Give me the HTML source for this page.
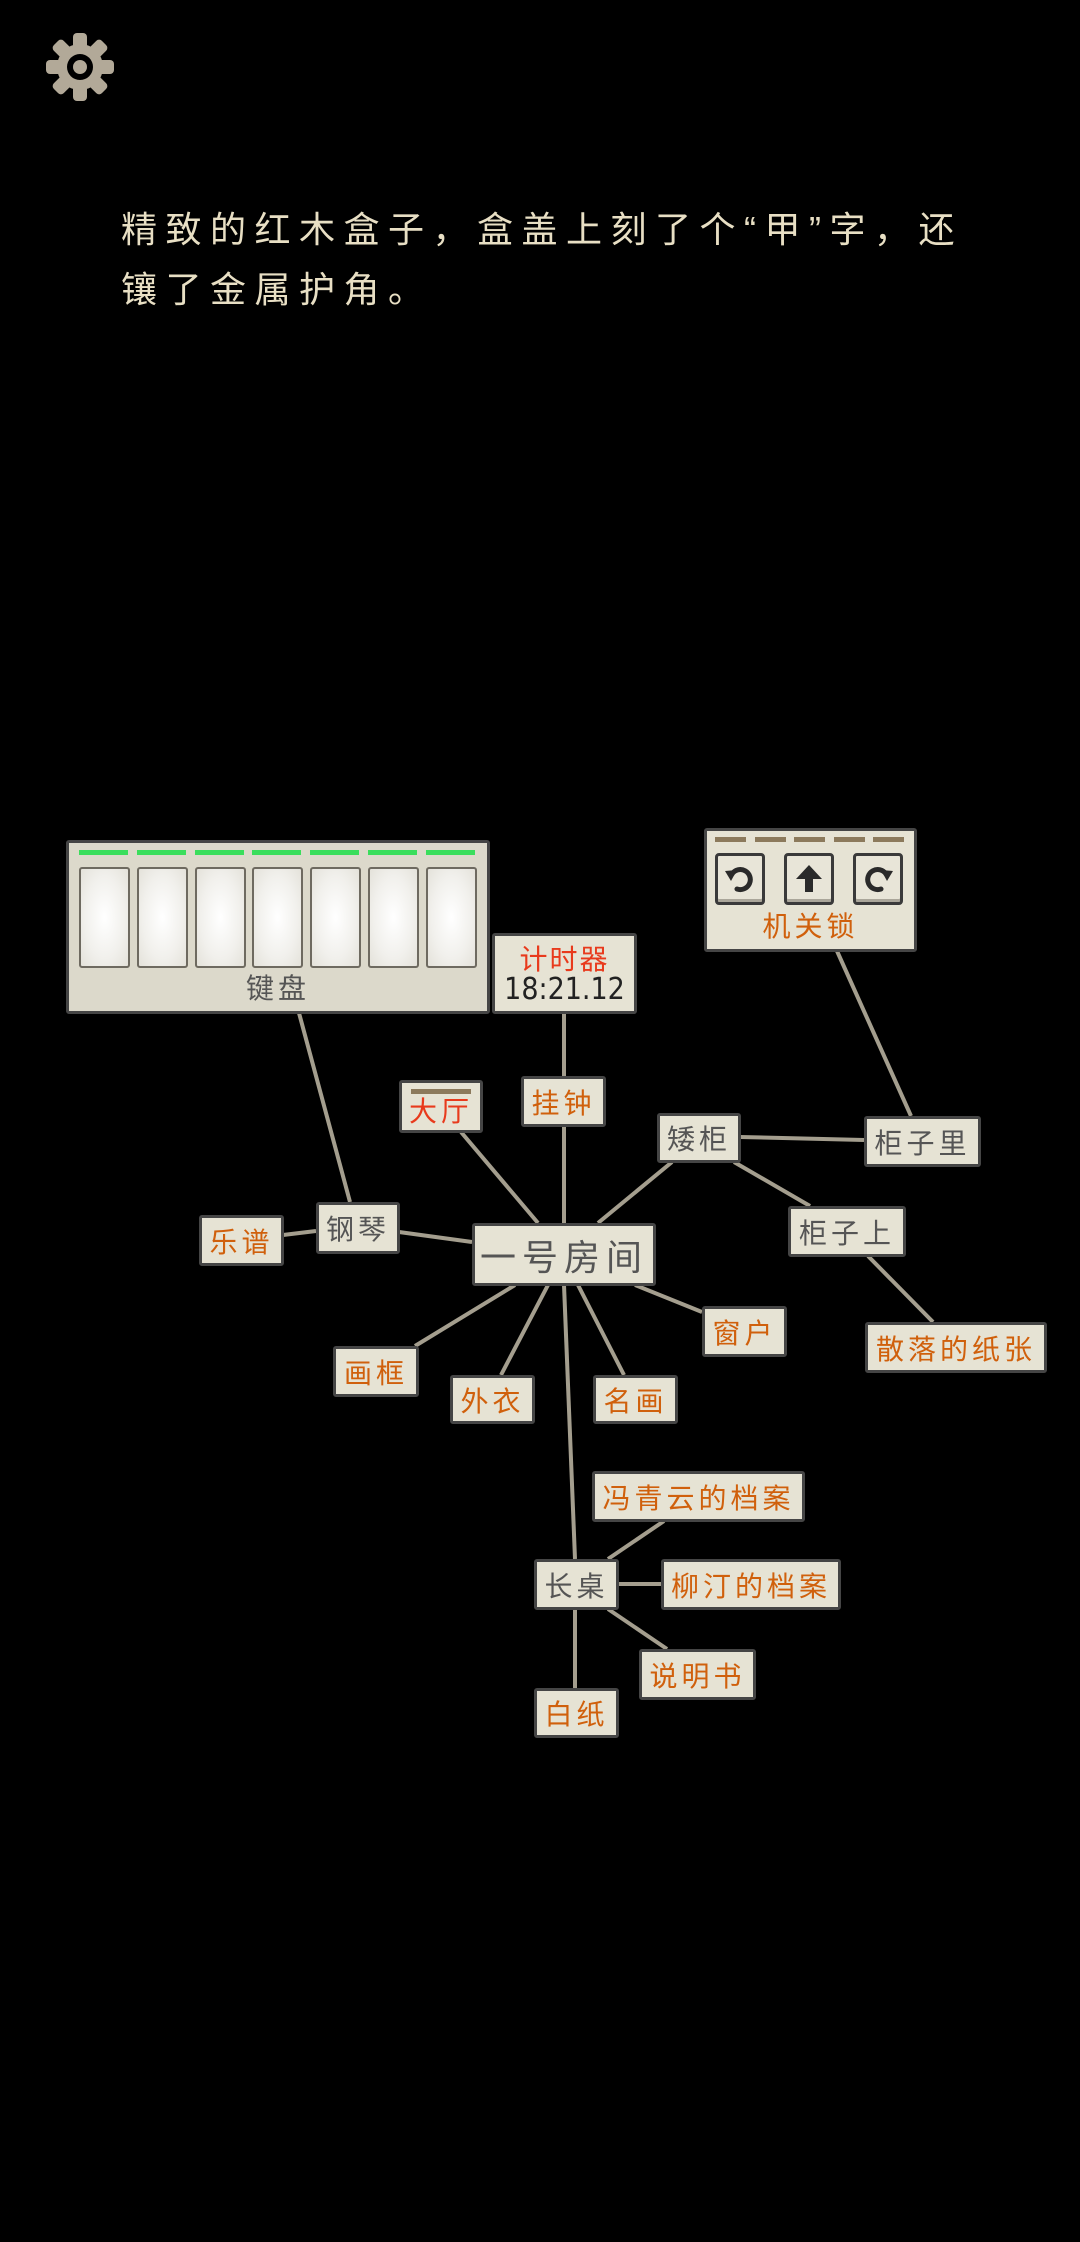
<!DOCTYPE html>
<html style="background:#000"><head><meta charset="utf-8"><style>
html,body{background:#000 !important;}
body{margin:0;width:1080px;height:2242px;position:relative;overflow:hidden;font-family:"Liberation Sans","Noto Sans CJK SC",sans-serif;}
.n{position:absolute;box-sizing:border-box;background:#e6e3d4;border:3px solid #454545;border-radius:3px;display:flex;align-items:center;justify-content:center;font-size:28px;letter-spacing:4px;color:#555;white-space:nowrap;font-family:"Noto Sans CJK SC",sans-serif;}
.o{color:#d0600c;}
.r{color:#e83a1c;}
.desc{position:absolute;left:121px;top:200px;color:#e8dfc4;font-size:36px;letter-spacing:8.5px;line-height:60px;font-family:"Liberation Sans","Noto Sans CJK SC",sans-serif;}
.key{position:absolute;top:867px;width:51px;height:101px;box-sizing:border-box;border:2px solid #6e6a60;border-radius:3px;background:radial-gradient(ellipse at center,#fff 0%,#f1f0ec 60%,#e4e2da 100%);}
.g{position:absolute;top:850px;height:5px;width:49px;background:#3ade5c;}
.d{position:absolute;top:837px;height:5px;width:31px;background:#8c7a5c;}
.b{position:absolute;top:853px;width:50px;height:52px;box-sizing:border-box;border:3px solid #3a3a3a;border-radius:4px;background:#e8e5d8;box-shadow:inset 0 -3px 0 #aaa69a;display:flex;align-items:center;justify-content:center;}
</style></head><body>
<div style="position:absolute;left:0;top:0;width:1080px;height:2242px;background:#000"></div>
<svg width="1080" height="2242" style="position:absolute;left:0;top:0">
<rect width="1080" height="2242" fill="#000"/>
<g transform="translate(80,67)" fill="#b2a998">
<circle r="23"/>
<rect x="-7" y="-34" width="14" height="16" rx="4"/>
<rect x="-7" y="-34" width="14" height="16" rx="4" transform="rotate(45)"/>
<rect x="-7" y="-34" width="14" height="16" rx="4" transform="rotate(90)"/>
<rect x="-7" y="-34" width="14" height="16" rx="4" transform="rotate(135)"/>
<rect x="-7" y="-34" width="14" height="16" rx="4" transform="rotate(180)"/>
<rect x="-7" y="-34" width="14" height="16" rx="4" transform="rotate(225)"/>
<rect x="-7" y="-34" width="14" height="16" rx="4" transform="rotate(270)"/>
<rect x="-7" y="-34" width="14" height="16" rx="4" transform="rotate(315)"/>
<circle r="13" fill="#000"/>
<circle r="7" fill="#b2a998"/>
</g>
<g stroke="#a49e8e" stroke-width="4">
<line x1="299" y1="1013" x2="350" y2="1202"/>
<line x1="564" y1="1013" x2="564" y2="1076"/>
<line x1="564" y1="1126" x2="564" y2="1223"/>
<line x1="461" y1="1132" x2="538" y2="1223"/>
<line x1="672" y1="1162" x2="598" y2="1223"/>
<line x1="740" y1="1137" x2="864" y2="1140"/>
<line x1="734" y1="1162" x2="810" y2="1206"/>
<line x1="837" y1="951" x2="911" y2="1116"/>
<line x1="868" y1="1256" x2="933" y2="1322"/>
<line x1="283" y1="1235" x2="316" y2="1231"/>
<line x1="399" y1="1232" x2="472" y2="1242"/>
<line x1="515" y1="1285" x2="415" y2="1346"/>
<line x1="548" y1="1285" x2="501" y2="1375"/>
<line x1="578" y1="1285" x2="624" y2="1375"/>
<line x1="635" y1="1285" x2="702" y2="1312"/>
<line x1="564" y1="1285" x2="575" y2="1559"/>
<line x1="608" y1="1559" x2="664" y2="1521"/>
<line x1="618" y1="1584" x2="661" y2="1584"/>
<line x1="608" y1="1609" x2="667" y2="1649"/>
<line x1="575" y1="1609" x2="575" y2="1688"/>
</g>
</svg>

<div class="desc">精致的红木盒子，盒盖上刻了个“甲”字，还<br>镶了金属护角。</div>

<div class="n" style="left:66px;top:840px;width:424px;height:174px;background:#dcd9cb;align-items:flex-end;padding-bottom:4px;font-size:28px;">键盘</div>
<div class="g" style="left:79px"></div><div class="g" style="left:137px"></div><div class="g" style="left:195px"></div><div class="g" style="left:252px"></div><div class="g" style="left:310px"></div><div class="g" style="left:368px"></div><div class="g" style="left:426px"></div>
<div class="key" style="left:79px"></div><div class="key" style="left:137px"></div><div class="key" style="left:195px"></div><div class="key" style="left:252px"></div><div class="key" style="left:310px"></div><div class="key" style="left:368px"></div><div class="key" style="left:426px"></div>

<div class="n" style="left:492px;top:933px;width:145px;height:81px;flex-direction:column;line-height:32px;letter-spacing:2px;">
<span class="r" style="font-size:28px">计时器</span>
<span style="color:#222;font-size:30px;letter-spacing:0;font-family:'DejaVu Sans Condensed','Liberation Sans',sans-serif">18:21.12</span></div>

<div class="n o" style="left:704px;top:828px;width:213px;height:124px;align-items:flex-end;padding-bottom:4px;">机关锁</div>
<div class="d" style="left:715px"></div><div class="d" style="left:755px"></div><div class="d" style="left:794px"></div><div class="d" style="left:834px"></div><div class="d" style="left:873px"></div>
<div class="b" style="left:715px"><svg width="34" height="34" viewBox="0 0 34 34"><path d="M9 12 A10 10 0 1 1 14 27" fill="none" stroke="#2a2a2a" stroke-width="5" stroke-linecap="round"/><path d="M2 9 L14 8 L8 19 Z" fill="#2a2a2a"/></svg></div>
<div class="b" style="left:784px"><svg width="34" height="34" viewBox="0 0 34 34"><path d="M17 3 L30 17 L21 17 L21 30 L13 30 L13 17 L4 17 Z" fill="#2a2a2a"/></svg></div>
<div class="b" style="left:853px"><svg width="34" height="34" viewBox="0 0 34 34"><path d="M25 12 A10 10 0 1 0 20 27" fill="none" stroke="#2a2a2a" stroke-width="5" stroke-linecap="round"/><path d="M32 9 L20 8 L26 19 Z" fill="#2a2a2a"/></svg></div>

<div class="n o" style="left:521px;top:1076px;width:85px;height:51px;">挂钟</div>
<div class="n r" style="left:399px;top:1080px;width:84px;height:53px;padding-top:6px;"><div style="position:absolute;left:9px;right:9px;top:6px;height:5px;background:#8c7a5c"></div>大厅</div>
<div class="n" style="left:657px;top:1113px;width:84px;height:50px;">矮柜</div>
<div class="n" style="left:864px;top:1116px;width:117px;height:51px;">柜子里</div>
<div class="n" style="left:788px;top:1206px;width:118px;height:51px;">柜子上</div>
<div class="n" style="left:316px;top:1202px;width:84px;height:52px;">钢琴</div>
<div class="n o" style="left:199px;top:1215px;width:85px;height:51px;">乐谱</div>
<div class="n" style="left:472px;top:1223px;width:184px;height:63px;font-size:36px;letter-spacing:6px;">一号房间</div>
<div class="n o" style="left:702px;top:1306px;width:85px;height:51px;">窗户</div>
<div class="n o" style="left:865px;top:1322px;width:182px;height:51px;">散落的纸张</div>
<div class="n o" style="left:333px;top:1346px;width:86px;height:51px;">画框</div>
<div class="n o" style="left:450px;top:1375px;width:85px;height:49px;">外衣</div>
<div class="n o" style="left:593px;top:1375px;width:85px;height:49px;">名画</div>
<div class="n o" style="left:592px;top:1471px;width:213px;height:51px;">冯青云的档案</div>
<div class="n" style="left:534px;top:1559px;width:85px;height:51px;">长桌</div>
<div class="n o" style="left:661px;top:1559px;width:180px;height:51px;">柳汀的档案</div>
<div class="n o" style="left:639px;top:1649px;width:117px;height:51px;">说明书</div>
<div class="n o" style="left:534px;top:1688px;width:85px;height:50px;">白纸</div>
</body></html>
